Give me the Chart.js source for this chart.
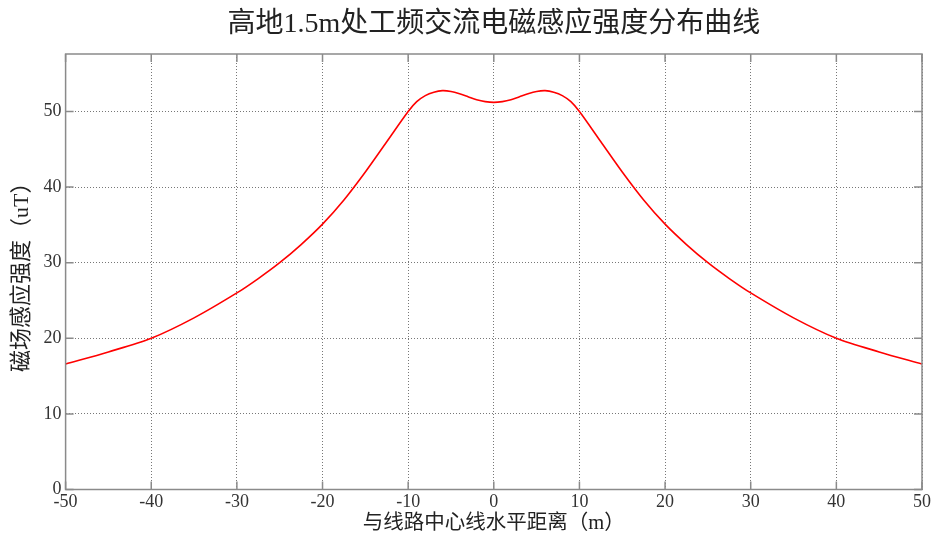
<!DOCTYPE html>
<html>
<head>
<meta charset="utf-8">
<script src="https://cdn.jsdelivr.net/npm/chart.js@4.4.1/dist/chart.umd.min.js"></script>
<style>
html,body{margin:0;padding:0;background:#fff;}
#wrap{width:936px;height:536px;}
</style>
</head>
<body>
<div id="wrap"><canvas id="c" width="936" height="536"></canvas></div>
<script>
const titleText = "高地1.5m处工频交流电磁感应强度分布曲线";
const xTitle = "与线路中心线水平距离（m）";
const yTitle = "磁场感应强度（uT）";
const distances = [-50,-45,-40,-35,-30,-27.5,-25,-22.5,-20,-17.5,-15,-12.5,-10,-9,-8,-7,-6,-5,-4,-3,-2,-1,0,
  1,2,3,4,5,6,7,8,9,10,12.5,15,17.5,20,22.5,25,27.5,30,35,40,45,50];
const fieldValues = [16.6,18.2,20.0,22.7,26.0,27.9,30.0,32.4,35.1,38.3,42.0,46.0,50.0,51.3,52.1,52.55,52.75,52.65,52.35,51.95,51.55,51.3,51.2,
  51.3,51.55,51.95,52.35,52.65,52.75,52.55,52.1,51.3,50.0,46.0,42.0,38.3,35.1,32.4,30.0,27.9,26.0,22.7,20.0,18.2,16.6];
const xTicks = [-50,-40,-30,-20,-10,0,10,20,30,40,50];
const yTicks = [0,10,20,30,40,50];
const yMax = 57.6;

const serif = '"Liberation Serif","Times New Roman","Noto Sans CJK SC",serif';
const points = distances.map((d,i)=>({x:d,y:fieldValues[i]}));

const framePlugin = {
  id:'frame',
  afterDraw(chart){
    const {ctx, chartArea:a, scales} = chart;
    ctx.save();
    ctx.strokeStyle = '#8a8a8a';
    ctx.lineWidth = 1.5;
    const tl = 8;
    ctx.beginPath();
    xTicks.forEach(v=>{
      const p = scales.x.getPixelForValue(v);
      ctx.moveTo(p,a.bottom); ctx.lineTo(p,a.bottom-tl);
      ctx.moveTo(p,a.top); ctx.lineTo(p,a.top+tl);
    });
    yTicks.forEach(v=>{
      const p = scales.y.getPixelForValue(v);
      ctx.moveTo(a.left,p); ctx.lineTo(a.left+tl,p);
      ctx.moveTo(a.right,p); ctx.lineTo(a.right-tl,p);
    });
    ctx.stroke();
    ctx.strokeRect(a.left,a.top,a.right-a.left,a.bottom-a.top);
    ctx.restore();
  }
};

new Chart(document.getElementById('c'),{
  type:'scatter',
  data:{datasets:[{
    data:points,
    showLine:true,
    borderColor:'#ff0000',
    borderWidth:1.6,
    pointRadius:0,
    tension:0.3,
    fill:false
  }]},
  options:{
    responsive:false,
    animation:false,
    devicePixelRatio:1,
    layout:{padding:{left:0,right:14,top:0,bottom:0}},
    plugins:{
      legend:{display:false},
      tooltip:{enabled:false},
      title:{display:true,text:titleText,color:'#222',fullSize:false,
        font:{family:serif,size:28,weight:'normal'},
        padding:{top:8,bottom:12.4}}
    },
    scales:{
      x:{type:'linear',min:-50,max:50,
        afterBuildTicks(s){s.ticks = xTicks.map(v=>({value:v}));},
        afterFit(s){s.height = 46.5;},
        ticks:{color:'#333',font:{family:serif,size:18},padding:2,maxRotation:0,autoSkip:false},
        grid:{color:'#777',lineWidth:1,drawTicks:false},
        border:{display:false,dash:[1,2]},
        title:{display:true,text:xTitle,color:'#222',font:{family:serif,size:20.5},padding:{top:0,bottom:0}}
      },
      y:{type:'linear',min:0,max:yMax,
        afterBuildTicks(s){s.ticks = yTicks.map(v=>({value:v}));},
        afterFit(s){s.width = 65.6;},
        ticks:{color:'#333',font:{family:serif,size:18},padding:4,autoSkip:false},
        grid:{color:'#777',lineWidth:1,drawTicks:false},
        border:{display:false,dash:[1,2]},
        title:{display:true,text:yTitle,color:'#222',font:{family:serif,size:22},padding:{top:9,bottom:0}}
      }
    }
  },
  plugins:[framePlugin]
});
</script>
</body>
</html>
